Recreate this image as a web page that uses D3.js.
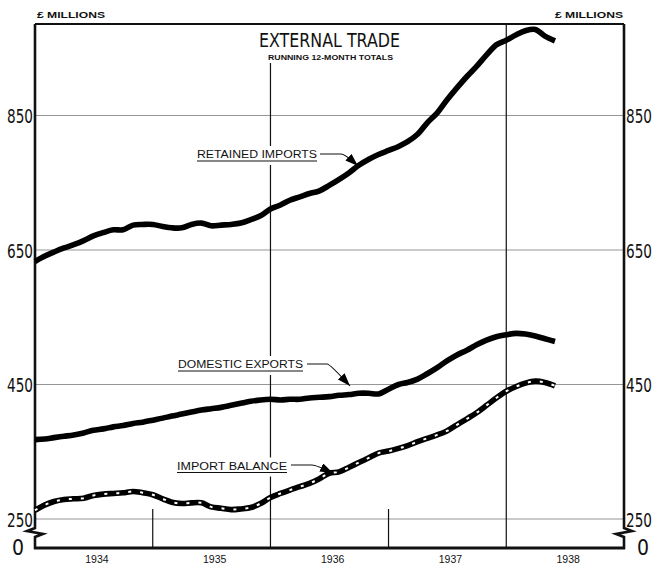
<!DOCTYPE html>
<html><head><meta charset="utf-8">
<script src="https://cdn.jsdelivr.net/npm/d3@7"></script>
<style>
html,body{margin:0;padding:0;background:#fff;}
svg{display:block;}
</style></head>
<body>
<svg id="chart" width="665" height="577"></svg>
<script>
// ---- data ----
const months = ["1934-01","1934-02","1934-03","1934-04","1934-05","1934-06","1934-07","1934-08","1934-09","1934-10","1934-11","1934-12",
"1935-01","1935-02","1935-03","1935-04","1935-05","1935-06","1935-07","1935-08","1935-09","1935-10","1935-11","1935-12",
"1936-01","1936-02","1936-03","1936-04","1936-05","1936-06","1936-07","1936-08","1936-09","1936-10","1936-11","1936-12",
"1937-01","1937-02","1937-03","1937-04","1937-05","1937-06","1937-07","1937-08","1937-09","1937-10","1937-11","1937-12",
"1938-01","1938-02","1938-03","1938-04","1938-05","1938-06"];
const retainedImports = [633,641,647,653,658,664,671,676,680,680,687,688,688,685,683,683,688,690,686,687,688,690,695,701,711,717,724,729,734,738,746,755,765,776,785,792,798,804,811,822,839,854,873,891,908,923,940,955,962,970,976,978,968,961];
const domesticExports = [368,369,371,373,375,378,382,384,387,389,392,394,397,400,403,406,409,412,414,416,419,422,425,427,428,427,428,428,430,431,432,434,435,437,437,436,443,450,453,458,466,475,485,494,501,509,516,521,524,526,525,522,518,514];
const importBalance = [263,271,276,279,280,281,285,287,288,289,291,289,286,280,275,273,274,274,268,266,264,265,267,273,282,288,293,298,303,310,318,320,327,334,341,348,351,355,359,365,370,375,381,390,399,408,419,430,440,447,452,455,453,448];
const years = ["1934","1935","1936","1937","1938"];
const yTicks = [250,450,650,850];
const seriesLabels = ["RETAINED IMPORTS","DOMESTIC EXPORTS","IMPORT BALANCE"];

// ---- layout ----
const L = 35, R = 624, TOP = 24, BOTTOM = 548;
const svg = d3.select("#chart");
const parse = d3.timeParse("%Y-%m");
const x = d3.scaleTime().domain([new Date(1934,0,1), new Date(1939,0,1)]).range([L, R]);
const y = d3.scaleLinear().domain([250, 850]).range([519, 115.5]);
const dates = months.map(parse);

const NARROW = "'Liberation Sans Narrow','DejaVu Sans Condensed','Liberation Sans',sans-serif";
const SANS = "'Liberation Sans','DejaVu Sans',sans-serif";

// gridlines
svg.append("g").selectAll("line").data(yTicks).join("line")
  .attr("x1", L).attr("x2", R).attr("y1", d => y(d)).attr("y2", d => y(d))
  .attr("stroke", "#8a8a8a").attr("stroke-width", 0.9);

// year dividers
const yearStart = years.map(s => new Date(+s, 0, 1));
svg.append("line").attr("x1", x(yearStart[2])).attr("x2", x(yearStart[2]))
  .attr("y1", 63).attr("y2", BOTTOM).attr("stroke", "#111").attr("stroke-width", 1.2);
svg.append("line").attr("x1", x(yearStart[4])).attr("x2", x(yearStart[4]))
  .attr("y1", TOP).attr("y2", BOTTOM).attr("stroke", "#111").attr("stroke-width", 1.2);
[yearStart[1], yearStart[3]].forEach(d => {
  svg.append("line").attr("x1", x(d)).attr("x2", x(d))
    .attr("y1", 509).attr("y2", BOTTOM).attr("stroke", "#111").attr("stroke-width", 1.2);
});

// frame: top border
svg.append("line").attr("x1", L).attr("x2", R).attr("y1", TOP).attr("y2", TOP)
  .attr("stroke", "#111").attr("stroke-width", 1.8);
// bottom axis
svg.append("line").attr("x1", L-1).attr("x2", R+1).attr("y1", BOTTOM).attr("y2", BOTTOM)
  .attr("stroke", "#111").attr("stroke-width", 3);
// left and right axes with break marks
svg.append("path")
  .attr("d", `M${L},${TOP} L${L},528 L${L-8},531 L${L+8},534 L${L},537 L${L},${BOTTOM+1}`)
  .attr("fill", "none").attr("stroke", "#111").attr("stroke-width", 2.6).attr("stroke-linejoin","miter");
svg.append("path")
  .attr("d", `M${R},${TOP} L${R},528 L${R+8},531 L${R-8},534 L${R},537 L${R},${BOTTOM+1}`)
  .attr("fill", "none").attr("stroke", "#111").attr("stroke-width", 2.6).attr("stroke-linejoin","miter");

// y axes (tick labels)
const axL = svg.append("g").attr("transform", `translate(${L},0)`)
  .call(d3.axisLeft(y).tickValues(yTicks).tickSize(0).tickPadding(2).tickFormat(d3.format("d")));
const axR = svg.append("g").attr("transform", `translate(${R},0)`)
  .call(d3.axisRight(y).tickValues(yTicks).tickSize(0).tickPadding(2).tickFormat(d3.format("d")));
[axL, axR].forEach(a => {
  a.select(".domain").remove();
  a.selectAll("text").attr("font-family", NARROW).attr("font-size", 20).attr("fill", "#111")
    .attr("dy", "0.36em").attr("textLength", 26).attr("lengthAdjust", "spacingAndGlyphs");
});
// zero labels
svg.append("text").attr("x", 24).attr("y", BOTTOM + 7).attr("text-anchor", "end")
  .attr("font-family", NARROW).attr("font-size", 21).attr("fill", "#111").text("0");
svg.append("text").attr("x", R + 13).attr("y", BOTTOM + 7).attr("text-anchor", "start")
  .attr("font-family", NARROW).attr("font-size", 21).attr("fill", "#111").text("0");

// x axis year labels
const midYears = years.map(s => new Date(+s, 6, 1));
const axB = svg.append("g").attr("transform", `translate(0,${BOTTOM})`)
  .call(d3.axisBottom(x).tickValues(midYears).tickSize(0).tickPadding(8).tickFormat(d3.timeFormat("%Y")));
axB.select(".domain").remove();
axB.selectAll("text").attr("font-family", SANS).attr("font-size", 10.5).attr("fill", "#111").attr("dx", 3);

// units
svg.append("text").attr("x", 37).attr("y", 18).attr("font-family", SANS).attr("font-weight", "bold")
  .attr("font-size", 9.5).attr("fill", "#111").attr("textLength", 68).attr("lengthAdjust","spacingAndGlyphs").text("£ MILLIONS");
svg.append("text").attr("x", 623).attr("y", 18).attr("text-anchor", "end").attr("font-family", SANS).attr("font-weight", "bold")
  .attr("font-size", 9.5).attr("fill", "#111").attr("textLength", 68).attr("lengthAdjust","spacingAndGlyphs").text("£ MILLIONS");

// title
svg.append("text").attr("x", 329.5).attr("y", 47).attr("text-anchor", "middle")
  .attr("font-family", NARROW).attr("font-size", 19).attr("fill", "#111")
  .attr("textLength", 141).attr("lengthAdjust", "spacingAndGlyphs").text("EXTERNAL TRADE");
svg.append("text").attr("x", 330.5).attr("y", 59.5).attr("text-anchor", "middle")
  .attr("font-family", SANS).attr("font-weight", "bold").attr("font-size", 7.5).attr("fill", "#111")
  .attr("textLength", 125).attr("lengthAdjust", "spacingAndGlyphs").text("RUNNING 12-MONTH TOTALS");

// lines
const line = d3.line().x((d, i) => x(dates[i])).y(d => y(d)).curve(d3.curveCatmullRom.alpha(0.5));
svg.append("path").datum(retainedImports).attr("d", line)
  .attr("fill", "none").attr("stroke", "#000").attr("stroke-width", 5.6).attr("stroke-linecap", "butt").attr("stroke-linejoin", "round");
svg.append("path").datum(domesticExports).attr("d", line)
  .attr("fill", "none").attr("stroke", "#000").attr("stroke-width", 5.6).attr("stroke-linecap", "butt").attr("stroke-linejoin", "round");
svg.append("path").datum(importBalance).attr("d", line)
  .attr("fill", "none").attr("stroke", "#000").attr("stroke-width", 5.6).attr("stroke-linecap", "butt").attr("stroke-linejoin", "round");
svg.append("path").datum(importBalance).attr("d", line)
  .attr("fill", "none").attr("stroke", "#fff").attr("stroke-width", 2).attr("stroke-dasharray", "3,9");

// arrow marker
const defs = svg.append("defs");
defs.append("marker").attr("id", "arr").attr("viewBox", "0 0 13 9").attr("refX", 13).attr("refY", 4.5)
  .attr("markerWidth", 13).attr("markerHeight", 9).attr("markerUnits", "userSpaceOnUse").attr("orient", "auto")
  .append("path").attr("d", "M0,0 L13,4.5 L0,9 Z").attr("fill", "#000");

// series labels with underline and leader
const labelSpecs = [
  {text: seriesLabels[0], x: 197, yb: 158, w: 120, leader: "M320,154 L341,154 Q345,154 358,166"},
  {text: seriesLabels[1], x: 178, yb: 368, w: 125, leader: "M307,364 L327,364 Q330,364 350,386"},
  {text: seriesLabels[2], x: 177, yb: 469.5, w: 110, leader: "M291,465 L312,465 Q316,465 333,473"}
];
labelSpecs.forEach(s => {
  const g = svg.append("g");
  g.append("rect").attr("x", s.x - 2).attr("y", s.yb - 12).attr("width", s.w + 4).attr("height", 19).attr("fill", "#fff");
  g.append("text").attr("x", s.x).attr("y", s.yb).attr("font-family", SANS).attr("font-size", 10)
    .attr("fill", "#111").attr("textLength", s.w).attr("lengthAdjust", "spacingAndGlyphs").text(s.text);
  g.append("line").attr("x1", s.x).attr("x2", s.x + s.w).attr("y1", s.yb + 3).attr("y2", s.yb + 3)
    .attr("stroke", "#111").attr("stroke-width", 1.1);
  g.append("path").attr("d", s.leader).attr("fill", "none").attr("stroke", "#111").attr("stroke-width", 1.1)
    .attr("marker-end", "url(#arr)");
});
</script>
</body></html>
